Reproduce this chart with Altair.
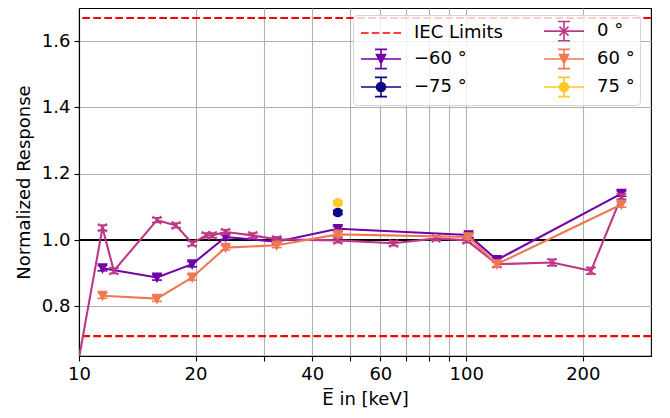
import altair as alt
import pandas as pd

# ---------------- data ----------------
legend_order = ["IEC Limits", "−60 °", "−75 °", "0 °", "60 °", "75 °"]
legend_colors = ["#ff0000", "#7201a8", "#0d0887", "#bd3786", "#ed7953", "#fdca26"]

energy_m75 = [46.6]
resp_m75 = [1.083]
err_m75 = [0.006]

energy_m60 = [11.5, 15.9, 19.6, 23.9, 32.4, 46.6, 101.4, 120.0, 251.6]
resp_m60 = [0.915, 0.887, 0.927, 1.009, 0.995, 1.034, 1.015, 0.940, 1.140]
err_m60 = [0.008, 0.008, 0.008, 0.007, 0.007, 0.007, 0.007, 0.007, 0.008]

energy_0 = [9.5, 11.5, 12.3, 15.9, 17.8, 19.6, 21.3, 22.1, 23.9, 28.1, 32.4,
            46.6, 64.9, 83.6, 100.4, 120.0, 166.6, 210.0, 251.6]
resp_0 = [0.50, 1.037, 0.907, 1.060, 1.044, 0.990, 1.014, 1.014, 1.024, 1.014,
          1.002, 0.999, 0.990, 1.005, 0.999, 0.927, 0.932, 0.907, 1.131]
err_0 = [0.008, 0.008, 0.008, 0.007, 0.007, 0.007, 0.007, 0.007, 0.007, 0.007,
         0.007, 0.007, 0.007, 0.007, 0.007, 0.008, 0.010, 0.010, 0.008]

energy_60 = [11.5, 15.9, 19.6, 23.9, 32.4, 46.6, 101.4, 120.0, 251.6]
resp_60 = [0.832, 0.823, 0.887, 0.977, 0.984, 1.017, 1.009, 0.927, 1.107]
err_60 = [0.008, 0.008, 0.008, 0.007, 0.007, 0.007, 0.007, 0.007, 0.008]

energy_75 = [46.6]
resp_75 = [1.112]
err_75 = [0.006]

iec_limits = [0.71, 1.67]
reference_line = [1.0]

x_tick_values = [10, 20, 30, 40, 50, 60, 70, 80, 90, 100, 200]
x_tick_labels = [10, 20, 40, 60, 100, 200]
y_tick_values = [0.8, 1.0, 1.2, 1.4, 1.6]

# ---------------- styling ----------------
FONT = "DejaVu Sans"
FS = 18
LW = 2.1

TRI = "M0,1L-1,-1L1,-1Z"
CIRC = "M1,0A1,1,0,1,1,-1,0A1,1,0,1,1,1,0Z"
XMK = "M-1,-1L1,1M-1,1L1,-1"

# legend symbol box is 20 px (unit = 10 px); paths reach 2 units sideways
EB = "M-2,0H2M0,-0.96V0.96M-0.6,-0.96H0.6M-0.6,0.96H0.6"
LEG_TRI = EB + "M0,0.45L-0.45,-0.45L0.45,-0.45Z"
LEG_CIRC = EB + "M0.45,0A0.45,0.45,0,1,1,-0.45,0A0.45,0.45,0,1,1,0.45,0Z"
LEG_X = EB + "M-0.45,-0.45L0.45,0.45M-0.45,0.45L0.45,-0.45"
LEG_DASH = "M-2,0H-1.24M-0.92,0H-0.16M0.16,0H0.92M1.24,0H2"
legend_paths = [LEG_DASH, LEG_TRI, LEG_CIRC, LEG_X, LEG_TRI, LEG_CIRC]

xscale = alt.Scale(type="log", domain=[10, 300], nice=False)
yscale = alt.Scale(domain=[0.65, 1.70], nice=False, zero=False)

label_test = "indexof([" + ",".join(str(v) for v in x_tick_labels) + "], datum.value) >= 0"
xaxis = alt.Axis(values=x_tick_values, labelExpr=label_test + " ? datum.label : ''",
                 title="E\u0305 in [keV]", labelFlush=False, labelOverlap=False,
                 format="d")
yaxis = alt.Axis(values=y_tick_values, format=".1f", title="Normalized Response",
                 labelFlush=False, labelOverlap=False)


def X(field="e"):
    return alt.X(f"{field}:Q", scale=xscale, axis=xaxis)


def Y(field="r"):
    return alt.Y(f"{field}:Q", scale=yscale, axis=yaxis)


def series_layers(e, r, err, color, shape):
    df = pd.DataFrame({"e": e, "r": r,
                       "lo": [a - b for a, b in zip(r, err)],
                       "hi": [a + b for a, b in zip(r, err)]})
    base = alt.Chart(df)
    layers = []
    if len(e) > 1:
        layers.append(base.mark_line(color=color, strokeWidth=LW, clip=True)
                      .encode(x=X(), y=Y()))
    layers.append(base.mark_rule(color=color, strokeWidth=1.6, clip=True)
                  .encode(x=X(), y=Y("lo"), y2="hi:Q"))
    for f in ["lo", "hi"]:
        layers.append(base.mark_tick(color=color, orient="horizontal", size=10,
                                     thickness=1.6, opacity=1, clip=True)
                      .encode(x=X(), y=Y(f)))
    layers.append(base.mark_point(shape=shape, size=69, fill=color, stroke=color,
                                  strokeWidth=1.4, opacity=1, clip=True)
                  .encode(x=X(), y=Y()))
    return layers


iec_df = pd.DataFrame({"v": iec_limits})
ref_df = pd.DataFrame({"v": reference_line})

iec = alt.Chart(iec_df).mark_rule(color="#ff0000", strokeWidth=LW,
                                  strokeDash=[7.7, 3.3]).encode(y=Y("v"))
ref = alt.Chart(ref_df).mark_rule(color="black", strokeWidth=LW).encode(y=Y("v"))

layers = [iec, ref]
layers += series_layers(energy_m75, resp_m75, err_m75, "#0d0887", CIRC)
layers += series_layers(energy_m60, resp_m60, err_m60, "#7201a8", TRI)
layers += series_layers(energy_0, resp_0, err_0, "#bd3786", XMK)
layers += series_layers(energy_60, resp_60, err_60, "#ed7953", TRI)
layers += series_layers(energy_75, resp_75, err_75, "#fdca26", CIRC)

legend_df = pd.DataFrame({"series": legend_order})
leg = alt.Legend(title=None, orient="none", legendX=274, legendY=7, columns=2,
                 columnPadding=37, rowPadding=2, labelFont=FONT, labelFontSize=FS,
                 labelColor="black", labelOffset=22, symbolSize=400, symbolOffset=12,
                 symbolStrokeWidth=1.6, symbolOpacity=1, padding=5,
                 fillColor="rgba(255,255,255,0.8)", strokeColor="#d5d5d5",
                 cornerRadius=4)
legend_layer = alt.Chart(legend_df).mark_point(opacity=0, filled=False).encode(
    color=alt.Color("series:N", scale=alt.Scale(domain=legend_order, range=legend_colors), legend=leg),
    fill=alt.Fill("series:N", scale=alt.Scale(domain=legend_order, range=legend_colors), legend=leg),
    shape=alt.Shape("series:N", scale=alt.Scale(domain=legend_order, range=legend_paths), legend=leg),
)
layers.append(legend_layer)

chart = alt.layer(*layers).properties(
    width=572, height=348,
    autosize=alt.AutoSizeParams(type="none"),
    padding={"left": 71, "top": 0, "right": 11, "bottom": 54},
).configure_view(
    stroke="black", strokeWidth=1.1
).configure_axis(
    labelFont=FONT, labelFontSize=FS, labelColor="black",
    titleFont=FONT, titleFontSize=FS, titleFontWeight="normal", titleColor="black",
    gridColor="#b0b0b0", gridWidth=1.1, grid=True,
    domainColor="black", domainWidth=1.1,
    tickColor="black", tickWidth=1.1, tickSize=5, labelPadding=4,
).configure_axisX(titlePadding=7).configure_axisY(titlePadding=8)

chart.save("out.html", embed_options={"renderer": "svg", "actions": False})
